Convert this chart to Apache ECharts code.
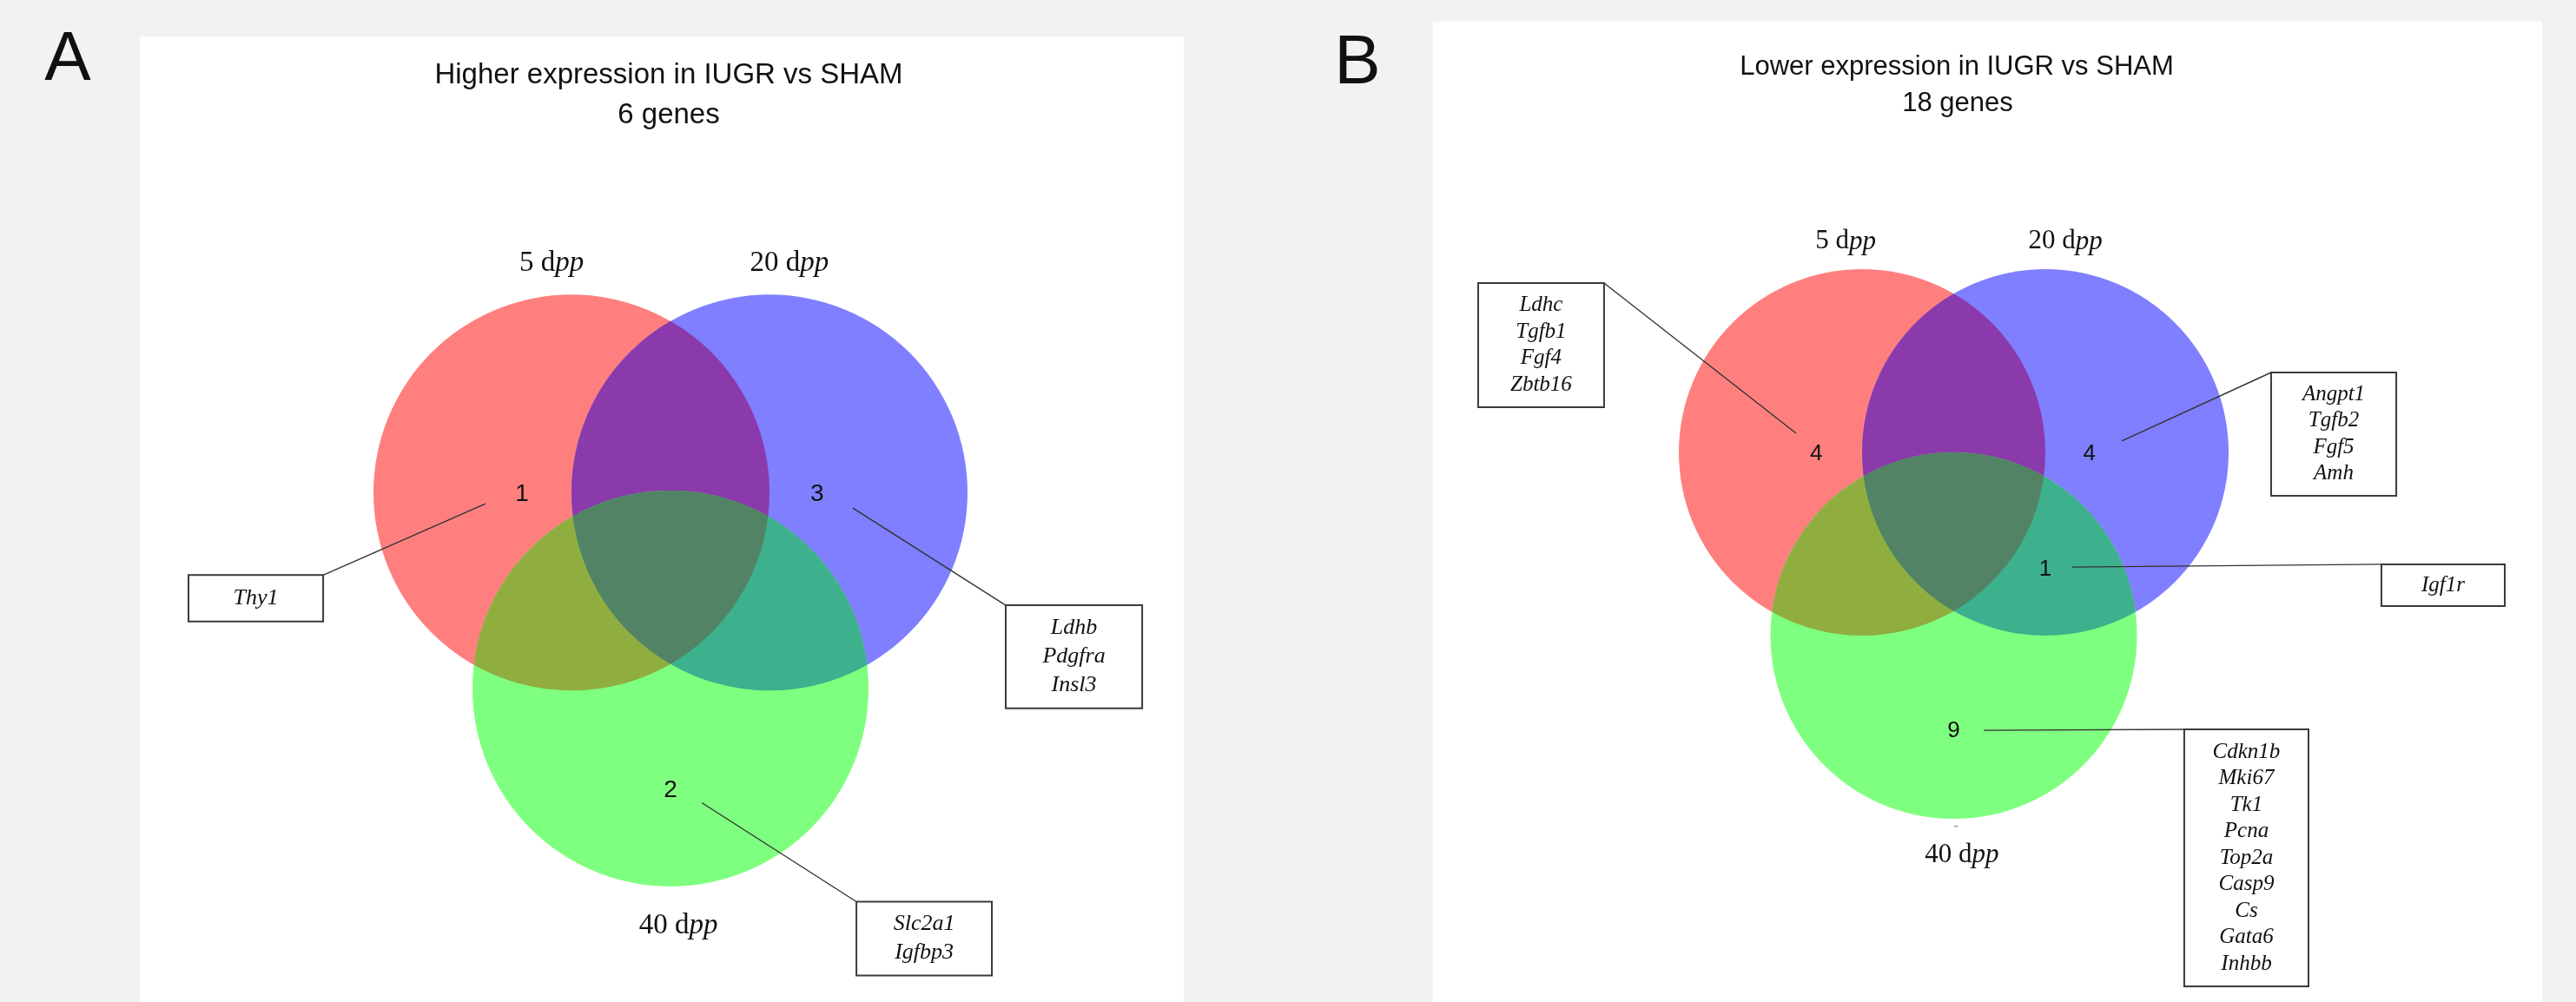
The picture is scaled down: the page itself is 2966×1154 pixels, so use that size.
<!DOCTYPE html>
<html>
<head>
<meta charset="utf-8">
<script src="https://cdn.jsdelivr.net/npm/echarts@6/dist/echarts.min.js"></script>
<style>
html,body{margin:0;padding:0;background:#f2f2f2;}
#c{width:2966px;height:1154px;}
</style>
</head>
<body>
<div id="c"></div>
<script>
// ================= DATA =================
const setNames = ['5 dpp', '20 dpp', '40 dpp'];
// region order: only5, only20, only40, 5&20, 5&40, 20&40, all three
const regionNames = ['5 dpp only', '20 dpp only', '40 dpp only', '5 & 20 dpp', '5 & 40 dpp', '20 & 40 dpp', '5 & 20 & 40 dpp'];

const titleA = 'Higher expression in IUGR vs SHAM';
const totalA = '6 genes';
const countsA = [1, 3, 2, 0, 0, 0, 0];
const genesA = [['Thy1'], ['Ldhb', 'Pdgfra', 'Insl3'], ['Slc2a1', 'Igfbp3'], [], [], [], []];

const titleB = 'Lower expression in IUGR vs SHAM';
const totalB = '18 genes';
const countsB = [4, 4, 9, 0, 0, 1, 0];
const genesB = [['Ldhc', 'Tgfb1', 'Fgf4', 'Zbtb16'], ['Angpt1', 'Tgfb2', 'Fgf5', 'Amh'],
  ['Cdkn1b', 'Mki67', 'Tk1', 'Pcna', 'Top2a', 'Casp9', 'Cs', 'Gata6', 'Inhbb'], [], [], ['Igf1r'], []];

// ================= LAYOUT / STYLE =================
const CENTERS = [[-0.5, 0], [0.5, 0], [0, -1]];
const R = 1;
const SET_COLORS = ['#FF7F7F', '#7F7FFF', '#7FFF7F'];
const PAIRS = [[0, 1], [0, 2], [1, 2]];
const PAIR_COLORS = ['#8B3AAB', '#8FAE3F', '#3DB08D'];
const TRIPLE_COLOR = '#528364';
const REGION_POS = [[-0.75, -0.01], [0.74, -0.01], [0, -1.52], [0, 0.55], [-0.5, -0.64], [0.5, -0.64], [0, -0.4]];

const layoutA = {
  grid: {left: 179.2, top: 116, width: 1185.6, height: 1048.8},
  x: [-2.6, 2.6], y: [-2.6, 2.0],
  setLabelPos: [[-0.6, 1.17], [0.6, 1.17], [0.04, -2.21]],
  setFont: 33, countFont: 28, geneFont: 26, geneLH: 33,
  boxes: {
    0: {x: [-2.434, -1.754], y: [-0.421, -0.658], corner: 'tr', from: [-0.934, -0.057]},
    1: {x: [1.693, 2.382], y: [-0.575, -1.101], corner: 'tl', from: [0.921, -0.079]},
    2: {x: [0.939, 1.623], y: [-2.088, -2.465], corner: 'tl', from: [0.158, -1.583]}
  }
};
const layoutB = {
  grid: {left: 1679.8, top: 310, width: 1223.8, height: 844},
  x: [-2.7, 3.1], y: [-3, 1],
  setLabelPos: [[-0.59, 1.15], [0.61, 1.15], [0.045, -2.2]],
  setFont: 31, countFont: 26, geneFont: 25, geneLH: 30.5,
  boxes: {
    0: {x: [-2.595, -1.908], y: [0.924, 0.246], corner: 'tr', from: [-0.860, 0.104]},
    1: {x: [1.732, 2.415], y: [0.436, -0.237], corner: 'tl', from: [0.917, 0.062]},
    5: {x: [2.334, 3.007], y: [-0.611, -0.839], corner: 'tl', from: [0.647, -0.626]},
    2: {x: [1.258, 1.936], y: [-1.512, -2.915], corner: 'tl', from: [0.164, -1.517]}
  }
};

const SANS = '"Liberation Sans", Arial, sans-serif';
const SERIF = '"Liberation Serif", "Times New Roman", serif';

// ================= GEOMETRY HELPERS =================
function intersections(c1, c2, r) {
  const dx = c2[0] - c1[0], dy = c2[1] - c1[1];
  const d = Math.hypot(dx, dy);
  const a = d / 2, h = Math.sqrt(Math.max(r * r - a * a, 0));
  const mx = c1[0] + dx / 2, my = c1[1] + dy / 2;
  const ux = -dy / d, uy = dx / d;
  return [[mx + ux * h, my + uy * h], [mx - ux * h, my - uy * h]];
}
function arcCmd(C, r, A, B) {
  const t1 = Math.atan2(A[1] - C[1], A[0] - C[0]);
  const t2 = Math.atan2(B[1] - C[1], B[0] - C[0]);
  let d = t2 - t1;
  while (d > Math.PI) d -= 2 * Math.PI;
  while (d <= -Math.PI) d += 2 * Math.PI;
  return 'A ' + r.toFixed(3) + ' ' + r.toFixed(3) + ' 0 0 ' + (d > 0 ? 1 : 0) + ' ' + B[0].toFixed(3) + ' ' + B[1].toFixed(3);
}
const P = p => p[0].toFixed(3) + ' ' + p[1].toFixed(3);

function setLabelRich(name, size) {
  const m = name.match(/^(.*d)(pp)$/);
  return {
    text: '{n|' + m[1] + '}{i|' + m[2] + '}',
    rich: {
      n: {font: size + 'px ' + SERIF, fill: '#111'},
      i: {font: 'italic ' + size + 'px ' + SERIF, fill: '#111'}
    }
  };
}

function panelSeries(gi, counts, genes, L) {
  const base = {type: 'custom', xAxisIndex: gi, yAxisIndex: gi, clip: false, silent: true, animation: false};
  const out = [];
  // circles
  out.push(Object.assign({}, base, {
    name: 'sets' + gi,
    data: setNames.map((n, i) => ({name: n, value: CENTERS[i].concat([R])})),
    renderItem(params, api) {
      const c = api.coord([api.value(0), api.value(1)]);
      const r = api.size([api.value(2), api.value(2)])[0];
      return {type: 'circle', shape: {cx: c[0], cy: c[1], r: r}, style: {fill: SET_COLORS[params.dataIndex]}};
    }
  }));
  // overlaps (pairs then triple)
  out.push(Object.assign({}, base, {
    name: 'overlaps' + gi,
    data: [[0, 1], [0, 2], [1, 2], [0, 1]],
    renderItem(params, api) {
      const cs = CENTERS.map(c => api.coord(c));
      const r = api.size([R, R])[0];
      const k = params.dataIndex;
      let d, fill;
      if (k < 3) {
        const [i, j] = PAIRS[k];
        const [p, q] = intersections(cs[i], cs[j], r);
        d = 'M ' + P(p) + ' ' + arcCmd(cs[i], r, p, q) + ' ' + arcCmd(cs[j], r, q, p) + ' Z';
        fill = PAIR_COLORS[k];
      } else {
        const inside = (a, b, c) => {
          const pts = intersections(cs[a], cs[b], r);
          const dd = pts.map(pt => Math.hypot(pt[0] - cs[c][0], pt[1] - cs[c][1]));
          return dd[0] < dd[1] ? pts[0] : pts[1];
        };
        const v01 = inside(0, 1, 2), v12 = inside(1, 2, 0), v02 = inside(0, 2, 1);
        d = 'M ' + P(v01) + ' ' + arcCmd(cs[1], r, v01, v12) + ' ' + arcCmd(cs[2], r, v12, v02) + ' ' + arcCmd(cs[0], r, v02, v01) + ' Z';
        fill = TRIPLE_COLOR;
      }
      return {type: 'path', shape: {pathData: d}, style: {fill: fill}};
    }
  }));
  // set labels
  out.push(Object.assign({}, base, {
    name: 'setLabels' + gi,
    data: setNames.map((n, i) => ({name: n, value: L.setLabelPos[i]})),
    renderItem(params, api) {
      const c = api.coord([api.value(0), api.value(1)]);
      const rs = setLabelRich(setNames[params.dataIndex], L.setFont);
      return {type: 'text', style: Object.assign(rs, {x: c[0], y: c[1], align: 'center', verticalAlign: 'middle', textAlign: 'center', textVerticalAlign: 'middle'})};
    }
  }));
  // leader lines + gene boxes
  const boxIdx = genes.map((g, k) => k).filter(k => genes[k].length > 0);
  out.push(Object.assign({}, base, {
    name: 'genes' + gi,
    data: boxIdx.map(k => ({name: regionNames[k], value: REGION_POS[k]})),
    renderItem(params, api) {
      const k = boxIdx[params.dataIndex];
      const b = L.boxes[k];
      const p0 = api.coord([b.x[0], b.y[0]]);
      const p1 = api.coord([b.x[1], b.y[1]]);
      const corner = b.corner === 'tr' ? [p1[0], p0[1]] : [p0[0], p0[1]];
      const f = api.coord(b.from);
      return {
        type: 'group',
        children: [
          {type: 'line', shape: {x1: f[0], y1: f[1], x2: corner[0], y2: corner[1]}, style: {stroke: '#333', lineWidth: 1.4}},
          {type: 'rect', shape: {x: p0[0], y: p0[1], width: p1[0] - p0[0], height: p1[1] - p0[1]},
            style: {fill: '#fff', stroke: '#3a3a3a', lineWidth: 2}},
          {type: 'text', style: {
            text: genes[k].join('\n'), x: (p0[0] + p1[0]) / 2, y: (p0[1] + p1[1]) / 2,
            font: 'italic ' + L.geneFont + 'px ' + SERIF, lineHeight: L.geneLH, fill: '#111',
            align: 'center', verticalAlign: 'middle', textAlign: 'center', textVerticalAlign: 'middle'}}
        ]
      };
    }
  }));
  // counts
  const cntIdx = counts.map((c, k) => k).filter(k => counts[k] > 0);
  out.push(Object.assign({}, base, {
    name: 'counts' + gi,
    data: cntIdx.map(k => ({name: regionNames[k], value: REGION_POS[k].concat([counts[k]])})),
    renderItem(params, api) {
      const c = api.coord([api.value(0), api.value(1)]);
      return {type: 'text', style: {
        text: String(api.value(2)), x: c[0], y: c[1], font: L.countFont + 'px ' + SANS, fill: '#111',
        align: 'center', verticalAlign: 'middle', textAlign: 'center', textVerticalAlign: 'middle'}};
    }
  }));
  return out;
}

function txt(text, x, y, font, extra) {
  return Object.assign({type: 'text', silent: true, style: {
    text: text, x: x, y: y, font: font, fill: '#111',
    align: 'center', verticalAlign: 'middle', textAlign: 'center', textVerticalAlign: 'middle'}}, extra || {});
}

const chart = echarts.init(document.getElementById('c'), null, {renderer: 'canvas'});
const option = {
  backgroundColor: '#f2f2f2',
  animation: false,
  graphic: [
    {type: 'rect', silent: true, z: -10, shape: {x: 161, y: 42, width: 1202, height: 1120}, style: {fill: '#ffffff'}},
    {type: 'rect', silent: true, z: -10, shape: {x: 1650, y: 25, width: 1277, height: 1140}, style: {fill: '#ffffff'}},
    txt('A', 78, 70, '80px ' + SANS, {}),
    txt('B', 1563, 74, '80px ' + SANS, {}),
    txt(titleA, 770, 87, '33px ' + SANS),
    txt(totalA, 770, 133, '33px ' + SANS),
    txt(titleB, 2253, 77, '31px ' + SANS),
    txt(totalB, 2254, 119, '31px ' + SANS),
    txt('-', 2252, 952, '18px ' + SANS, {style: {text: '-', x: 2252, y: 952, font: '18px ' + SANS, fill: '#999', align: 'center', verticalAlign: 'middle', textAlign: 'center', textVerticalAlign: 'middle'}})
  ],
  grid: [
    Object.assign({containLabel: false}, layoutA.grid),
    Object.assign({containLabel: false}, layoutB.grid)
  ],
  xAxis: [
    {type: 'value', gridIndex: 0, min: layoutA.x[0], max: layoutA.x[1], show: false},
    {type: 'value', gridIndex: 1, min: layoutB.x[0], max: layoutB.x[1], show: false}
  ],
  yAxis: [
    {type: 'value', gridIndex: 0, min: layoutA.y[0], max: layoutA.y[1], show: false},
    {type: 'value', gridIndex: 1, min: layoutB.y[0], max: layoutB.y[1], show: false}
  ],
  series: [].concat(panelSeries(0, countsA, genesA, layoutA), panelSeries(1, countsB, genesB, layoutB))
};
chart.setOption(option);
</script>
</body>
</html>
